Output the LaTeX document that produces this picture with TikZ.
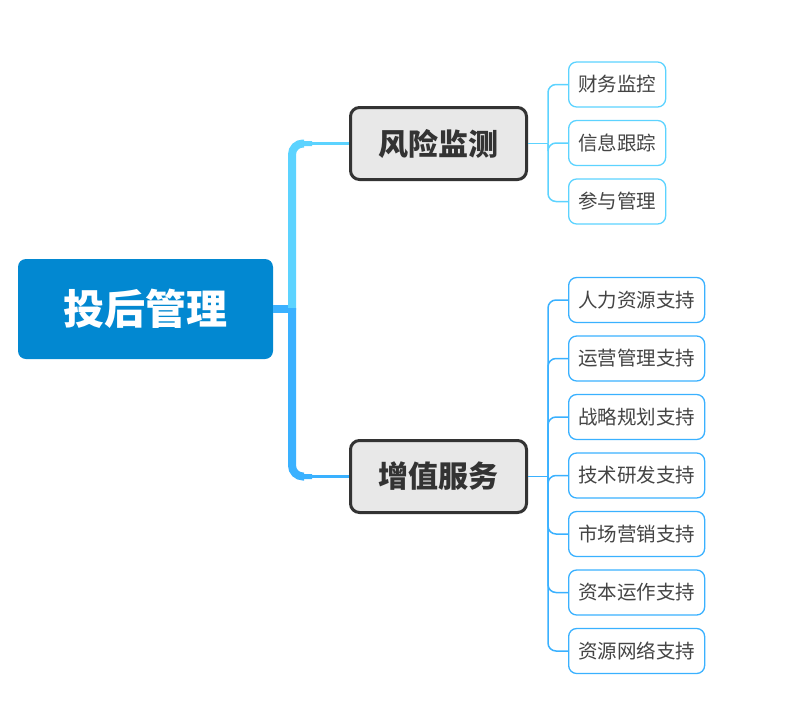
\documentclass[tikz,border=0pt]{standalone}
\usepackage{fontspec}
\newfontfamily\cjk{Noto Sans CJK SC}
\definecolor{rootblue}{HTML}{0288D1}
\definecolor{upline}{HTML}{5CD3FF}
\definecolor{lowline}{HTML}{3AB1FF}
\definecolor{boxgray}{HTML}{E8E8E8}
\definecolor{boxedge}{HTML}{333333}
\definecolor{textgray}{HTML}{444444}
\begin{document}
\begin{tikzpicture}[x=1pt,y=-1pt,
  rootbox/.style={fill=rootblue,rounded corners=8pt,minimum width=255pt,minimum height=100pt,
    text=white,font=\cjk\bfseries\fontsize{41}{41}\selectfont},
  mainbox/.style={draw=boxedge,line width=3pt,fill=boxgray,rounded corners=9pt,
    minimum width=176pt,minimum height=72pt,text=boxedge,font=\cjk\bfseries\fontsize{30}{30}\selectfont},
  leafbox/.style={draw=#1,line width=1.3pt,fill=white,rounded corners=8pt,anchor=west,
    minimum height=45pt,inner xsep=9.5pt,text=textgray,font=\cjk\fontsize{19.5}{19.5}\selectfont}]
\useasboundingbox (0,0) rectangle (807,705);
\node[rootbox] (root) at (145.5,309) {投后管理};
\node[mainbox] (risk) at (438.5,143.5) {风险监测};
\node[mainbox] (value) at (438.5,476.5) {增值服务};
% trunk
\coordinate (rootfork) at (292,309);
\draw[lowline,line width=8pt] (root.east) -- (rootfork);
\draw[upline,line width=8pt,rounded corners=11pt] (292,310) -- (292,143.5) -- (304,143.5);
\draw[upline,line width=5pt,rounded corners=11pt] (292,160) -- (292,143.5) -- (312,143.5);
\draw[upline,line width=3pt] (300,143.5) -- (risk.west);
\draw[lowline,line width=8pt,rounded corners=11pt] (292,308) -- (292,476.5) -- (304,476.5);
\draw[lowline,line width=5pt,rounded corners=11pt] (292,460) -- (292,476.5) -- (312,476.5);
\draw[lowline,line width=3pt] (300,476.5) -- (value.west);
% risk leaves
\coordinate (riskfork) at (548,143.5);
\draw[upline,line width=1.6pt] (risk.east) -- (riskfork);
\foreach \name/\y [count=\i] in {财务监控/84.5,信息跟踪/143,参与管理/201.5}{
  \node[leafbox=upline] (risk\i) at (568,\y) {\name};
  \draw[upline,line width=1.5pt,rounded corners=8pt] (riskfork) |- (risk\i.west);
}
% value leaves
\coordinate (valuefork) at (548,476.5);
\draw[lowline,line width=1.6pt] (value.east) -- (valuefork);
\foreach \name [count=\i] in {人力资源支持,运营管理支持,战略规划支持,技术研发支持,市场营销支持,资本运作支持,资源网络支持}{
  \node[leafbox=lowline] (value\i) at (568,241.5+58.5*\i) {\name};
  \draw[lowline,line width=1.5pt,rounded corners=8pt] (valuefork) |- (value\i.west);
}
\end{tikzpicture}
\end{document}
